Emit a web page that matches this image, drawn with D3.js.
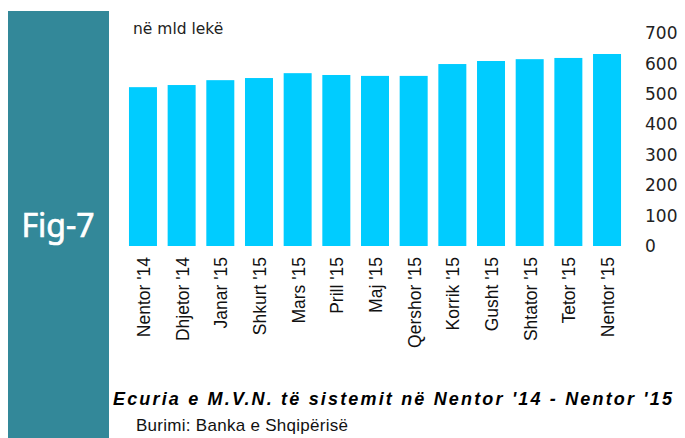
<!DOCTYPE html>
<html>
<head>
<meta charset="utf-8">
<script src="https://cdn.jsdelivr.net/npm/d3@7"></script>
<style>
  body { margin: 0; background: #fff; }
  svg { display: block; }
</style>
</head>
<body>
<div id="chart"></div>
<script>
  // Data (billion lek)
  const months = ["Nentor '14", "Dhjetor '14", "Janar '15", "Shkurt '15", "Mars '15", "Prill '15",
                  "Maj '15", "Qershor '15", "Korrik '15", "Gusht '15", "Shtator '15", "Tetor '15", "Nentor '15"];
  const values = [522, 529, 545, 552, 568, 562, 559, 559, 598, 608, 614, 618, 631];
  const yTicks = [0, 100, 200, 300, 400, 500, 600, 700];

  const W = 685, H = 438;
  const svg = d3.select("#chart").append("svg")
    .attr("width", W).attr("height", H);

  // Side panel with figure label
  svg.append("rect")
    .attr("x", 8).attr("y", 11).attr("width", 101).attr("height", H - 11)
    .attr("fill", "#338899");
  svg.append("text")
    .attr("x", 58).attr("y", 237)
    .attr("text-anchor", "middle")
    .attr("fill", "#fff")
    .attr("stroke", "#fff")
    .attr("stroke-width", 0.7)
    .style("font-family", "'Noto Sans', 'Open Sans', sans-serif")
    .style("font-size", "32px")
    .text("Fig-7");

  // Scales
  const x = d3.scaleBand().domain(months).range([118.3, 631.7]).padding(0.276);
  const y = d3.scaleLinear().domain([0, 700]).range([246, 33]);

  // Bars
  svg.append("g").selectAll("rect")
    .data(values)
    .join("rect")
    .attr("x", (d, i) => x(months[i]))
    .attr("y", d => y(d))
    .attr("width", x.bandwidth())
    .attr("height", d => y(0) - y(d))
    .attr("fill", "#00ccff");

  // Right-hand value axis (labels only)
  svg.append("g").selectAll("text")
    .data(yTicks)
    .join("text")
    .attr("x", 645)
    .attr("y", d => y(d))
    .attr("dy", "0.36em")
    .attr("fill", "#222")
    .style("font-family", "'DejaVu Sans', sans-serif")
    .style("font-size", "17px")
    .text(d => d);

  // Month labels, rotated
  svg.append("g").selectAll("text")
    .data(months)
    .join("text")
    .attr("transform", d => `translate(${x(d) + x.bandwidth() / 2 + 7},257) rotate(-90)`)
    .attr("text-anchor", "end")
    .attr("fill", "#111")
    .style("font-family", "'Liberation Sans', Arial, sans-serif")
    .style("font-size", "17.5px")
    .text(d => d);

  // Unit label
  svg.append("text")
    .attr("x", 133).attr("y", 34)
    .attr("fill", "#222")
    .style("font-family", "'DejaVu Sans', sans-serif")
    .style("font-size", "15.5px")
    .text("në mld lekë");

  // Title
  svg.append("text")
    .attr("x", 113).attr("y", 405)
    .attr("textLength", 559).attr("lengthAdjust", "spacing")
    .attr("fill", "#000")
    .style("font-family", "'Liberation Sans', Arial, sans-serif")
    .style("font-size", "18px")
    .style("font-weight", "bold")
    .style("font-style", "italic")
    .text("Ecuria e M.V.N. të sistemit në Nentor '14 - Nentor '15");

  // Source
  svg.append("text")
    .attr("x", 136).attr("y", 431)
    .attr("textLength", 212).attr("lengthAdjust", "spacing")
    .attr("fill", "#111")
    .style("font-family", "'Liberation Sans', Arial, sans-serif")
    .style("font-size", "17px")
    .text("Burimi: Banka e Shqipërisë");
</script>
</body>
</html>
